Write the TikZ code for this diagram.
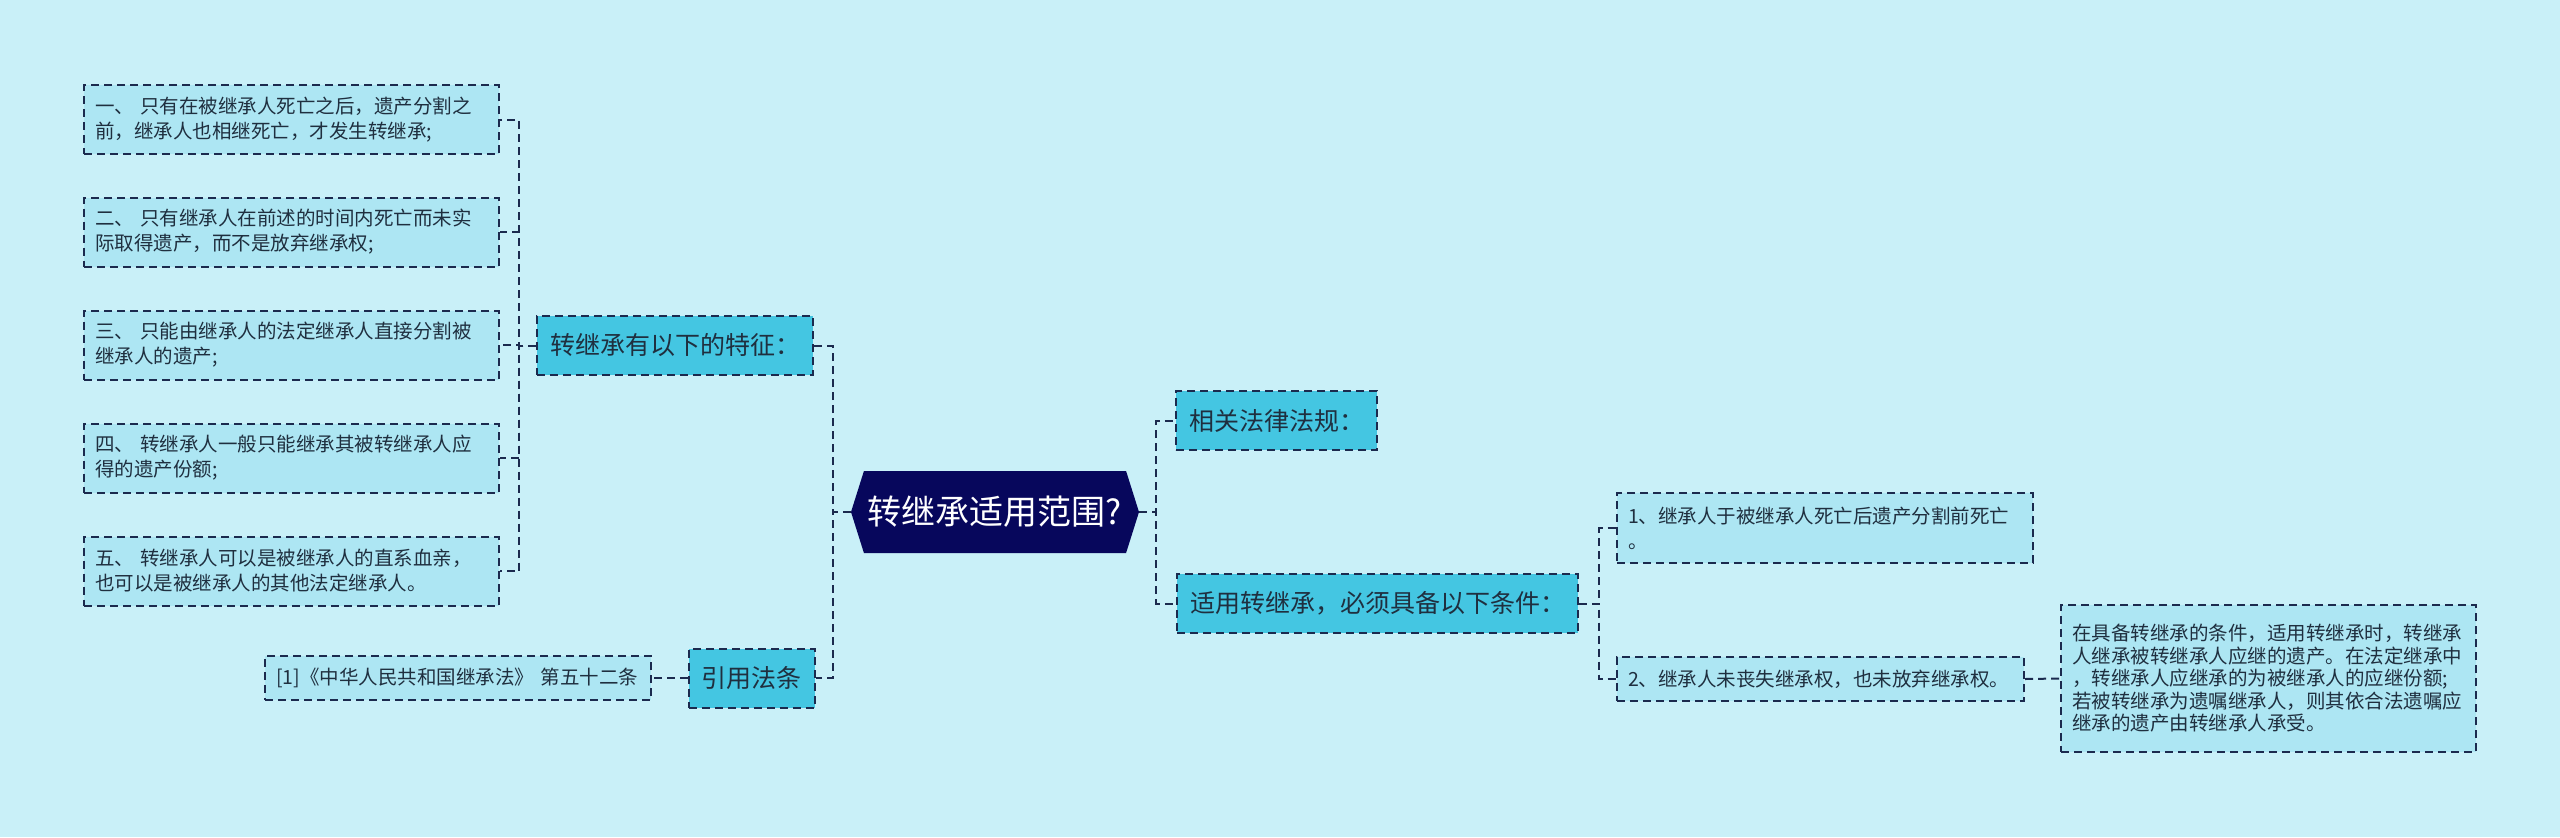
\documentclass[tikz,border=0pt]{standalone}
\usepackage{fontspec}
\usepackage{tikz}
\usetikzlibrary{positioning, shapes.symbols, calc}
\newfontfamily\cjkfont{Noto Sans CJK SC}
\definecolor{cBg}    {HTML}{C9F0F8}
\definecolor{cLeaf}  {HTML}{ADE6F3}
\definecolor{cBranch}{HTML}{44C6E2}
\definecolor{cRoot}  {HTML}{07075C}
\definecolor{cLine}  {HTML}{1B2A4E}
\definecolor{cText}  {HTML}{1F2F3F}
\tikzset{
  dashline/.style={draw=cLine, line width=1pt, dash pattern=on 4pt off 2.5pt},
  leafbox/.style={dashline, fill=cLeaf, text=cText, align=left,
    font=\cjkfont\fontsize{9.75}{12.5}\selectfont, inner xsep=5.5pt, inner ysep=0pt},
  branchbox/.style={dashline, fill=cBranch, text=cText, inner xsep=6.5pt,
    font=\cjkfont\fontsize{12.5}{15}\selectfont, minimum height=29.5pt},
  rootbox/.style={signal, signal to=east and west, signal pointer angle=145,
    fill=cRoot, text=white, font=\cjkfont\fontsize{17}{20}\selectfont,
    minimum width=144pt, minimum height=41pt, inner sep=0pt},
  link/.style={dashline},
}
\begin{document}
\begin{tikzpicture}[x=0.5pt, y=-0.5pt]
  \fill[cBg] (0,0) rectangle (2560,837);
  \useasboundingbox (0,0) rectangle (2560,837);
  % centre and first level
  \node[rootbox] (root) at (995,512) {转继承适用范围?};
  \node[branchbox] (featHead) at (675,345.5) {转继承有以下的特征：};
  \node[branchbox] (citeHead) at (751.5,678) {引用法条};
  \node[branchbox] (lawHead) at (1276.5,420.5) {相关法律法规：};
  \node[branchbox] (condHead) at (1377.5,603.5) {适用转继承，必须具备以下条件：};
  % features of the transfer
  \foreach \i/\y/\txt in {
      1/119.5/{一、 只有在被继承人死亡之后，遗产分割之\\前，继承人也相继死亡，才发生转继承;},
      2/232/{二、 只有继承人在前述的时间内死亡而未实\\际取得遗产，而不是放弃继承权;},
      3/345/{三、 只能由继承人的法定继承人直接分割被\\继承人的遗产;},
      4/458/{四、 转继承人一般只能继承其被转继承人应\\得的遗产份额;},
      5/571/{五、 转继承人可以是被继承人的直系血亲，\\也可以是被继承人的其他法定继承人。}}{
    \node[leafbox, text width=196.5pt, minimum height=34.5pt] (feat\i) at (291.5,\y) {\txt};
    \draw[link] (featHead.west) -- ++(-17,0) |- (feat\i.east);
  }
  \node[leafbox, text width=182pt, minimum height=22pt] (cite) at (458,678)
    {[1]《中华人民共和国继承法》 第五十二条};
  % conditions
  \node[leafbox, text width=197pt, minimum height=35pt] (cond1) at (1825,528)
    {1、继承人于被继承人死亡后遗产分割前死亡\\。};
  \node[leafbox, text width=192.5pt, minimum height=22pt] (cond2) at (1820.5,679)
    {2、继承人未丧失继承权，也未放弃继承权。};
  \node[leafbox, text width=196.5pt, minimum height=73.5pt,
        font=\cjkfont\fontsize{9.75}{11.25}\selectfont] (condNote) at (2268.5,678.5)
    {在具备转继承的条件，适用转继承时，转继承\\人继承被转继承人应继的遗产。在法定继承中\\，转继承人应继承的为被继承人的应继份额;\\若被转继承为遗嘱继承人，则其依合法遗嘱应\\继承的遗产由转继承人承受。};
  % connectors
  \draw[link] (root.west) -- ++(-18,0) |- (featHead.east);
  \draw[link] (root.west) -- ++(-18,0) |- (citeHead.east);
  \draw[link] (citeHead.west) -- (cite.east);
  \draw[link] (root.east) -- ++(17,0) |- (lawHead.west);
  \draw[link] (root.east) -- ++(17,0) |- (condHead.west);
  \draw[link] (condHead.east) -- ++(20,0) |- (cond1.west);
  \draw[link] (condHead.east) -- ++(20,0) |- (cond2.west);
  \draw[link] (cond2.east) -- (condNote.west);
\end{tikzpicture}
\end{document}
